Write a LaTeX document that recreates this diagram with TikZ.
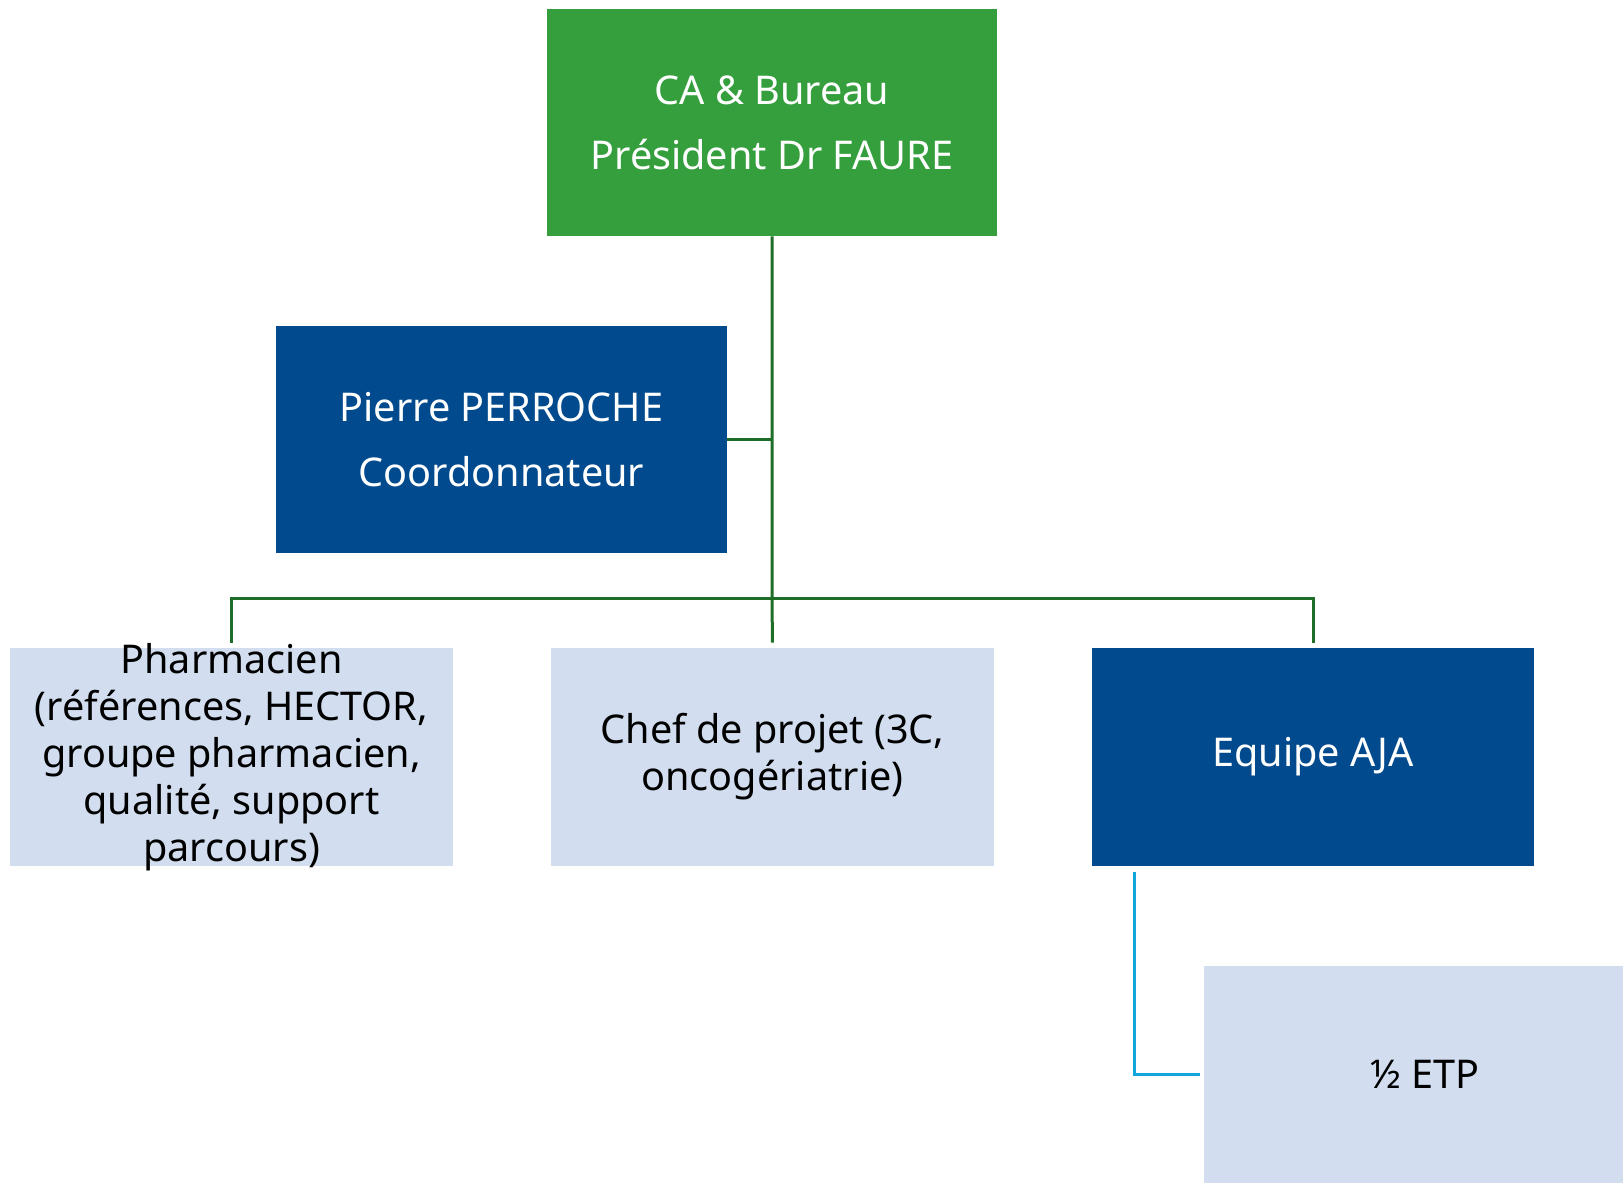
\documentclass[tikz,border=0pt]{standalone}
\usepackage{fontspec}
\setmainfont{Noto Sans}
\definecolor{topgreen}{RGB}{53,158,61}
\definecolor{darkblue}{RGB}{0,74,141}
\definecolor{lightblue}{RGB}{210,222,239}
\definecolor{linegreen}{RGB}{30,110,40}
\definecolor{lineblue}{RGB}{20,165,220}
\tikzset{
  box/.style={rectangle, inner sep=0pt, align=center, font=\fontsize{19.8}{23.5}\selectfont},
  darkbox/.style={box, fill=darkblue, text=white, font=\fontsize{19.8}{32.5}\selectfont},
  greenbox/.style={box, fill=topgreen, text=white, font=\fontsize{19.8}{32.5}\selectfont},
  lightbox/.style={box, fill=lightblue, text=black},
  gline/.style={draw=linegreen, line width=1.5pt},
  bline/.style={draw=lineblue, line width=1.5pt},
}
\begin{document}
\begin{tikzpicture}[x=0.5pt,y=-0.5pt]
\useasboundingbox (0,0) rectangle (1623,1187);
\node[greenbox, minimum width=225pt, minimum height=113.5pt] (top) at (772,122.5) {CA \& Bureau\\Président Dr FAURE};
\node[darkbox, minimum width=225.5pt, minimum height=113.5pt] (pierre) at (501.5,439.5) {Pierre PERROCHE\\Coordonnateur};
\node[lightbox, minimum width=221.5pt, minimum height=109pt, text height=106.9pt, text depth=2.1pt] (pharm) at (231.5,757) {Pharmacien\\(références, HECTOR,\\groupe pharmacien,\\qualité, support\\parcours)};
\node[lightbox, minimum width=221.5pt, minimum height=109pt] (chef) at (772.5,757) {Chef de projet (3C,\\oncogériatrie)};
\node[darkbox, minimum width=221pt, minimum height=109pt] (aja) at (1313,757) {Equipe AJA};
\node[lightbox, minimum width=209.5pt, minimum height=108.5pt] (etp) at (1413.5,1074.5) {\hspace*{11.4pt}½ ETP};
\coordinate (bus) at (772,598);
\coordinate (ajaleg) at (1134,866);
\draw[gline, shorten >=2.5pt] (top.south) -- (bus) -- (chef.north);
\draw[gline] (pierre.east) -- (pierre.east -| top.south);
\draw[gline, shorten <=2.5pt, shorten >=2.5pt] (pharm.north) |- (bus) -| (aja.north);
\draw[bline, shorten <=3pt, shorten >=2pt] (ajaleg) |- (etp.west);
\end{tikzpicture}
\end{document}
